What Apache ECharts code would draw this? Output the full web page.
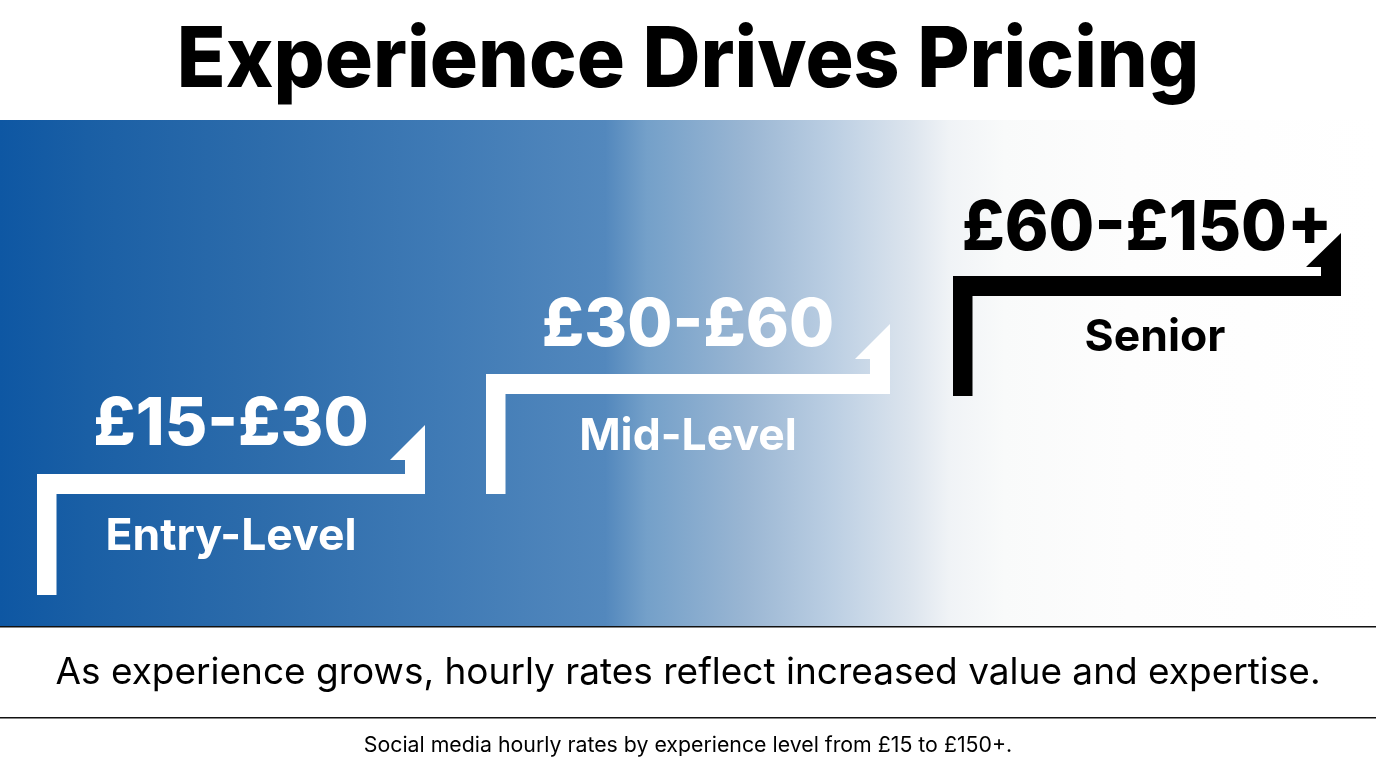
<!DOCTYPE html>
<html>
<head>
<meta charset="utf-8">
<title>Experience Drives Pricing</title>
<style>
html,body{margin:0;padding:0;background:#fff;}
#main{width:1376px;height:768px;}
</style>
<script src="https://cdn.jsdelivr.net/npm/echarts@6/dist/echarts.min.js"></script>
</head>
<body>
<div id="main"></div>
<script>
// data
var levels = ['Entry-Level', 'Mid-Level', 'Senior'];
var lowRates = [15, 30, 60];
var rateLabels = ['£15-£30', '£30-£60', '£60-£150+'];

var titleText = 'Experience Drives Pricing';
var takeaway = 'As experience grows, hourly rates reflect increased value and expertise.';
var footnote = 'Social media hourly rates by experience level from £15 to £150+.';

var fontName = 'Inter';

var myChart = echarts.init(document.getElementById('main'));

// one step: the bent bar with its arrow head, the rate above it and the level below it
function drawStep(params, api) {
	var i = api.value(0);
	var p = api.coord([i, api.value(1)]);
	var mid = i === 1, senior = i === 2;
	var cx = p[0] - (mid ? 1 : 0);
	var top = p[1] - (mid ? 1 : 0);
	var hw = mid ? 202 : 194;
	var color = senior ? '#000000' : '#ffffff';
	var left = cx - hw, right = cx + hw;
	var thick = 20;
	var headY = senior ? top - 43 : (mid ? top - 50 : top - 49);
	var neckY = senior ? top - 9 : (mid ? top - 15 : top - 14);
	var headW = 35;
	var drop = mid ? 120 : (senior ? 120 : 121);
	var rateY = senior ? top - 47 : (mid ? top - 48 : top - 49);
	return {
		type: 'group',
		children: [{
			type: 'polygon',
			shape: {points: [
				[left, top + drop], [left, top], [right - thick, top], [right - thick, neckY],
				[right - headW, neckY], [right, headY], [right, top + thick],
				[left + 19.5, top + thick], [left + 19.5, top + drop]
			]},
			style: {fill: color}
		}, {
			type: 'text',
			x: cx, y: rateY,
			scaleX: senior ? 0.96 : 0.99,
			style: {
				text: rateLabels[i], fill: color, align: 'center', verticalAlign: 'middle',
				font: '800 ' + (senior ? 69 : 66) + 'px ' + fontName
			}
		}, {
			type: 'text',
			x: senior ? cx + 8 : cx, y: senior ? top + 62 : top + 63,
			style: {
				text: levels[i], fill: color, align: 'center', verticalAlign: 'middle',
				font: '700 44.5px ' + fontName
			}
		}]
	};
}

var option = {
	backgroundColor: '#ffffff',
	animation: false,
	title: [
		{text: takeaway, left: 'center', top: 649, textStyle: {fontFamily: fontName, fontSize: 37, fontWeight: 400, color: '#000'}},
		{text: footnote, left: 'center', top: 730, textStyle: {fontFamily: fontName, fontSize: 21.3, fontWeight: 400, color: '#000'}}
	],
	grid: {left: 2, width: 1374, top: 276, height: 198},
	xAxis: {type: 'category', data: levels, show: false},
	yAxis: {type: 'log', logBase: 2, min: 15, max: 60, show: false},
	graphic: [
		{
			type: 'text', x: 688, y: 62, scaleX: 0.956,
			style: {
				text: titleText, fill: '#000', align: 'center', verticalAlign: 'middle',
				font: '800 84px ' + fontName
			}
		},
		{
			type: 'rect', z: -1,
			shape: {x: 0, y: 120, width: 1376, height: 506},
			style: {fill: new echarts.graphic.LinearGradient(0, 0, 1, 0, [
				{offset: 0, color: '#0e57a3'},
				{offset: 0.064, color: '#1a5fa5'},
				{offset: 0.191, color: '#2d6cab'},
				{offset: 0.319, color: '#3f7ab5'},
				{offset: 0.44, color: '#5388bd'},
				{offset: 0.47, color: '#74a0c9'},
				{offset: 0.542, color: '#9ab6d3'},
				{offset: 0.606, color: '#bccfe3'},
				{offset: 0.663, color: '#dde5ee'},
				{offset: 0.69, color: '#f0f3f6'},
				{offset: 0.73, color: '#f9fafa'},
				{offset: 0.82, color: '#fdfdfd'},
				{offset: 1, color: '#ffffff'}
			])}
		},
		{type: 'rect', shape: {x: 0, y: 626, width: 1376, height: 1.5}, style: {fill: '#111'}},
		{type: 'rect', shape: {x: 0, y: 717, width: 1376, height: 1.5}, style: {fill: '#111'}}
	],
	series: [{
		type: 'custom',
		coordinateSystem: 'cartesian2d',
		clip: false,
		renderItem: drawStep,
		data: lowRates.map(function (v, i) { return [i, v]; })
	}]
};
myChart.setOption(option);
</script>
</body>
</html>
